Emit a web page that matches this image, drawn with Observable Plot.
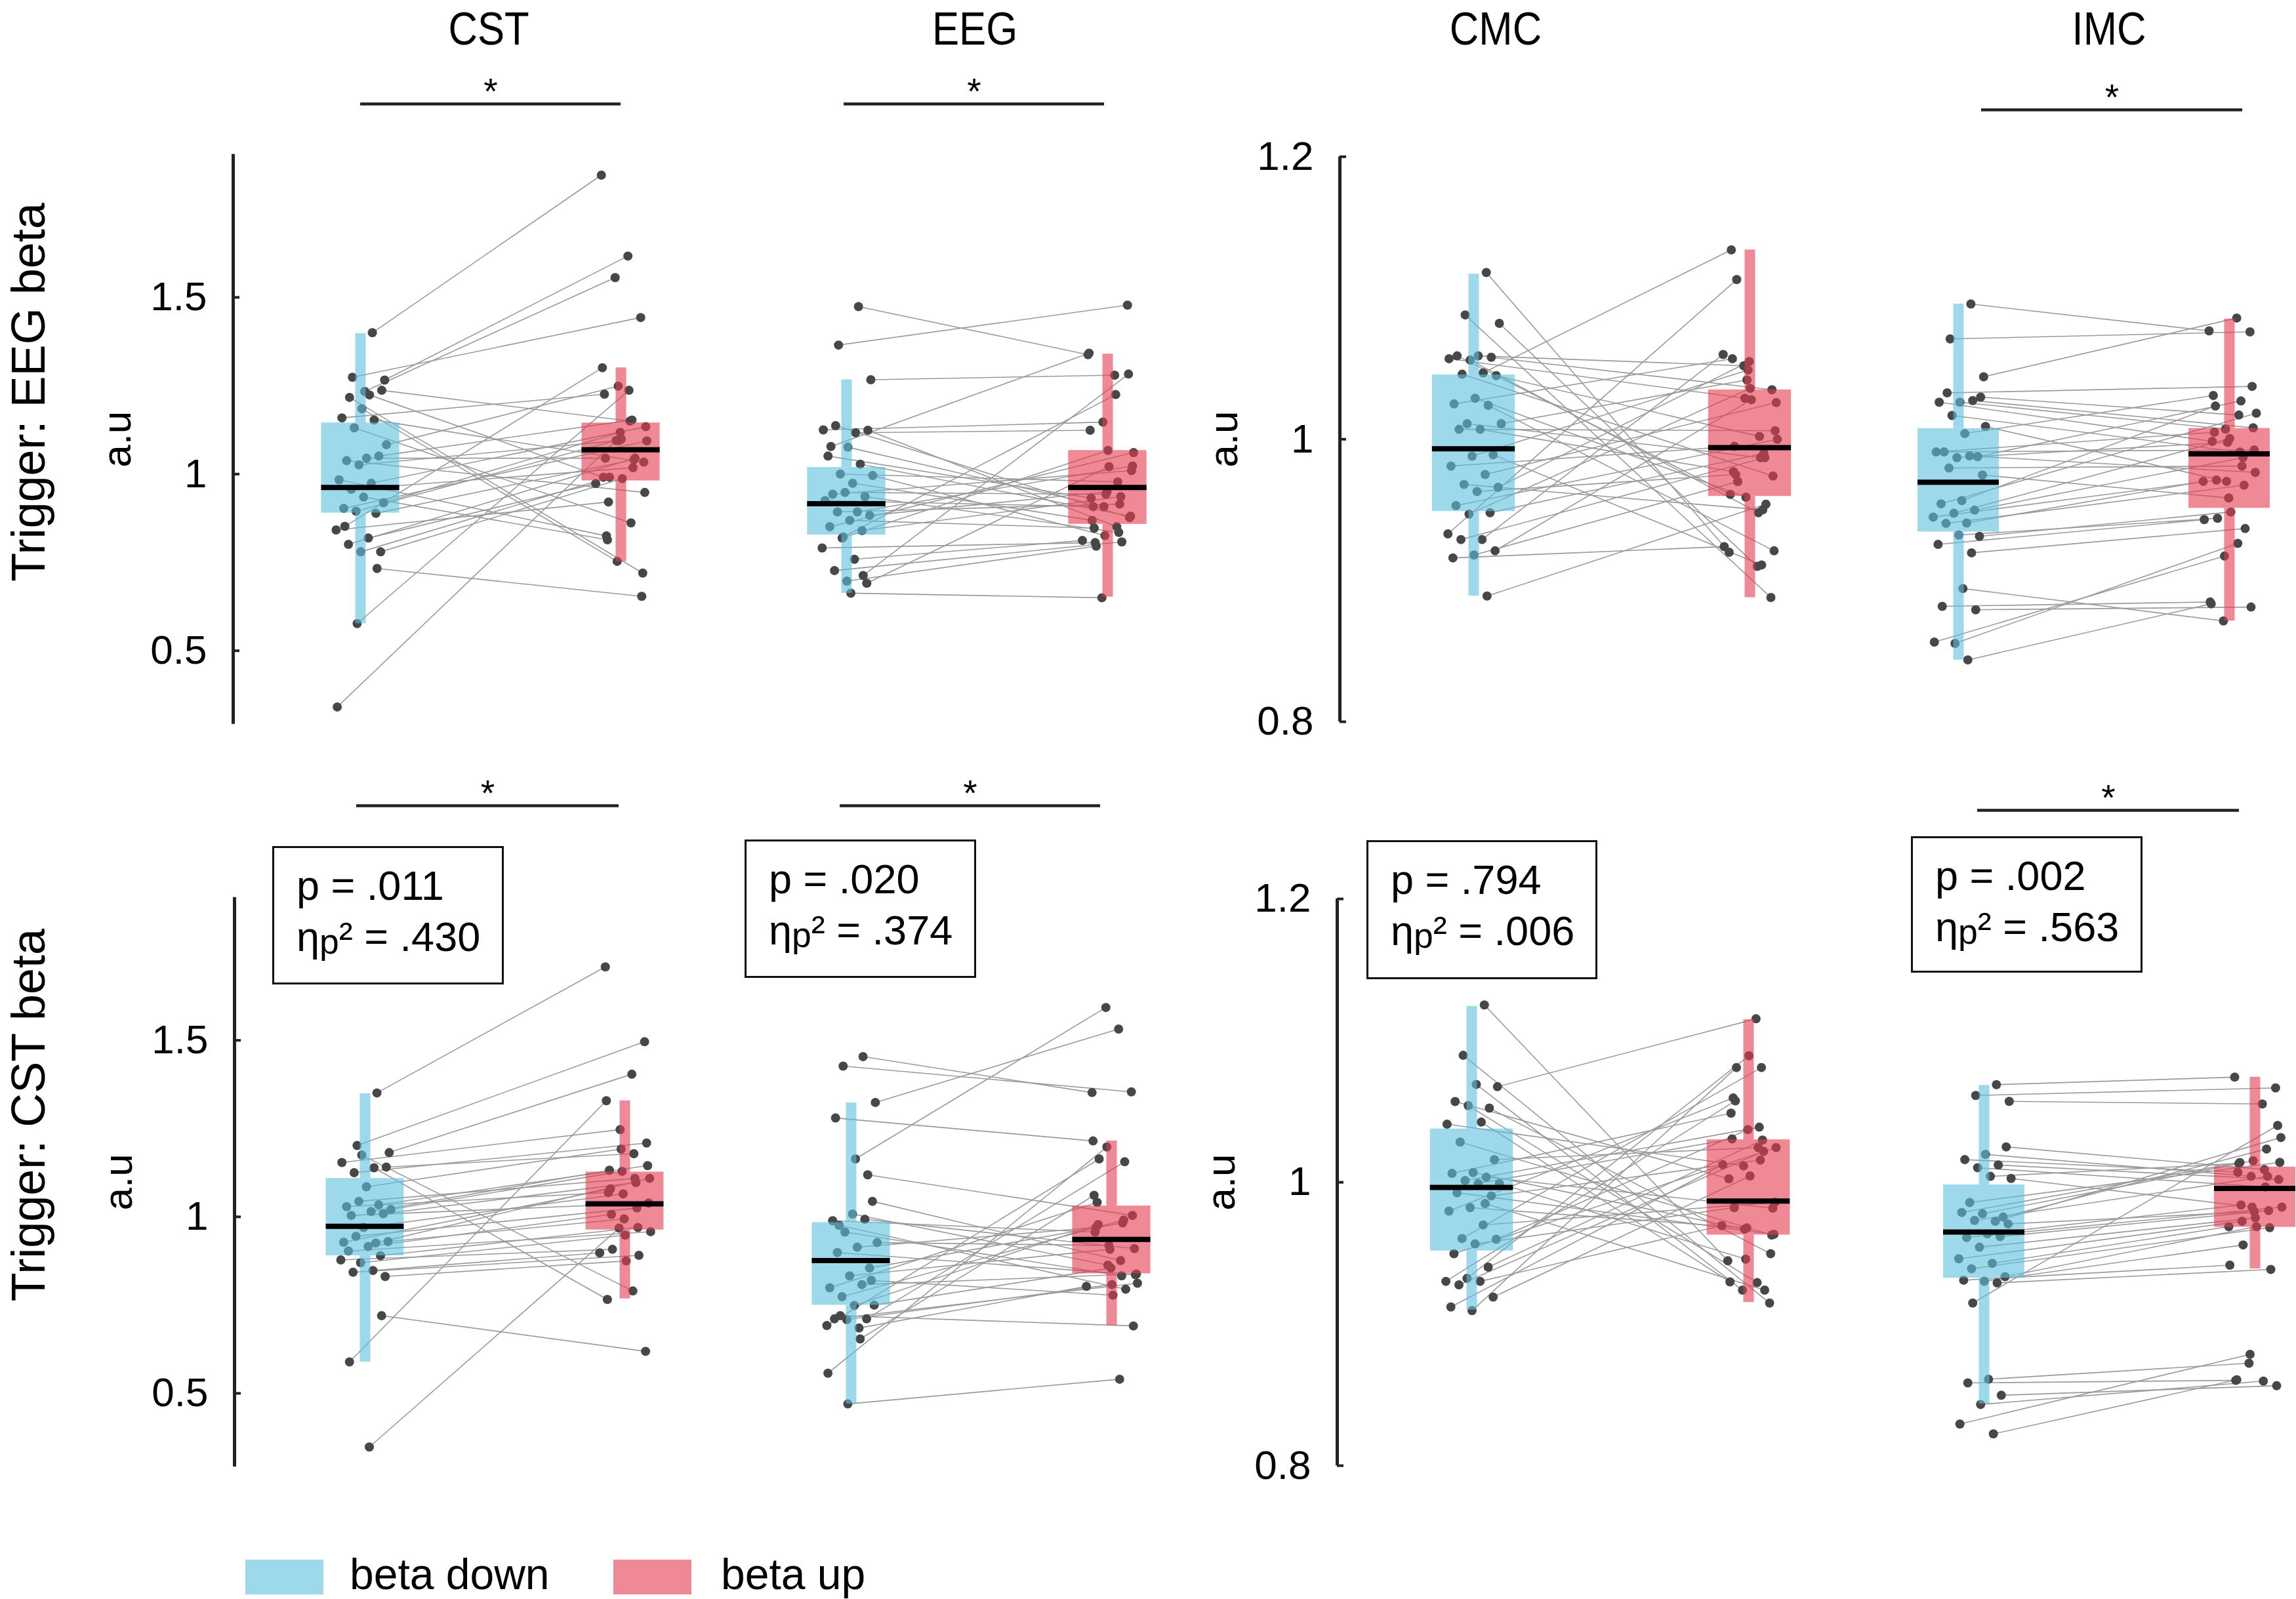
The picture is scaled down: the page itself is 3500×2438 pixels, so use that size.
<!DOCTYPE html>
<html>
<head>
<meta charset="utf-8">
<script src="https://cdn.jsdelivr.net/npm/d3@7"></script>
<script src="https://cdn.jsdelivr.net/npm/@observablehq/plot@0.6"></script>
<style>
  html, body { margin: 0; padding: 0; background: #fff; }
  #root { position: relative; width: 3500px; height: 2438px; overflow: hidden; background: #fff;
          font-family: "Liberation Sans", Arial, Helvetica, sans-serif; color: #000; }
  .abs { position: absolute; white-space: nowrap; line-height: 1; }
</style>
</head>
<body>
<div id="root"></div>
<script>
// ---------------- DATA ----------------
const measures = ["CST", "EEG", "CMC", "IMC"];
const conditions = ["beta down", "beta up"];
const triggers = ["Trigger: EEG beta", "Trigger: CST beta"];
const yLimWide = [0.292, 1.905];
const yLimNarrow = [0.8, 1.2];
const yTicksWide = [0.5, 1, 1.5];
const yTicksNarrow = [0.8, 1, 1.2];
const yAxisLabel = "a.u";

// Trigger: EEG beta (top row); paired values, same index = same participant
const eegTrigCSTDown = [1.400, 1.274, 1.266, 1.234, 0.852, 0.733, 0.577, 0.341, 1.224, 1.217, 1.237, 1.185, 1.159, 1.153, 1.131, 1.083, 1.045, 1.038, 1.051, 1.026, 0.984, 0.974, 0.957, 0.919, 0.935, 0.903, 0.889, 0.895, 0.842, 0.819, 0.801, 0.780, 0.780];
const eegTrigCSTUp   = [1.846, 1.443, 1.617, 1.556, 1.301, 0.654, 1.237, 1.095, 0.991, 0.720, 1.150, 0.753, 1.226, 1.034, 0.862, 1.249, 1.045, 0.948, 1.153, 1.095, 0.825, 1.134, 1.018, 1.118, 0.814, 1.094, 1.041, 1.099, 0.921, 0.973, 1.045, 0.987, 0.991];
const eegTrigEEGDown = [1.474, 1.365, 1.267, 0.663, 1.078, 0.713, 0.822, 1.125, 1.117, 1.137, 1.124, 1.076, 1.051, 1.028, 1.000, 0.996, 0.974, 0.943, 0.936, 0.948, 0.925, 0.893, 0.893, 0.883, 0.869, 0.851, 0.840, 0.819, 0.791, 0.759, 0.727, 0.691, 0.697];
const eegTrigEEGUp   = [1.338, 1.478, 1.280, 0.650, 1.342, 1.283, 1.225, 1.147, 1.124, 0.877, 0.851, 0.908, 0.932, 0.881, 0.978, 0.826, 0.869, 1.010, 0.835, 0.943, 0.908, 1.023, 0.915, 0.950, 0.847, 1.061, 0.936, 1.067, 0.806, 0.812, 0.808, 1.021, 0.796];
const eegTrigCMCDown = [1.118, 1.088, 1.082, 1.059, 1.059, 1.058, 1.056, 1.057, 1.047, 1.046, 1.045, 1.029, 1.025, 1.024, 1.011, 1.011, 1.007, 1.007, 0.989, 0.988, 0.981, 0.975, 0.968, 0.966, 0.963, 0.953, 0.948, 0.947, 0.933, 0.929, 0.929, 0.921, 0.918, 0.916, 0.889];
const eegTrigCMCUp   = [0.920, 0.888, 0.910, 1.052, 0.961, 1.035, 0.948, 1.029, 1.134, 0.974, 1.002, 0.959, 1.057, 0.921, 0.987, 1.042, 0.977, 1.006, 0.911, 1.049, 0.995, 1.026, 0.950, 1.055, 0.975, 1.000, 0.990, 1.036, 1.113, 1.060, 0.987, 1.028, 0.970, 0.924, 0.954];
const eegTrigIMCDown = [1.0957, 1.071, 1.0442, 0.8943, 0.8817, 0.8793, 0.8555, 0.8564, 0.8438, 1.0328, 1.0298, 1.0262, 1.0262, 1.0274, 1.0168, 1.009, 1.004, 0.991, 0.9877, 0.987, 0.991, 0.9882, 0.9797, 0.9747, 0.9566, 0.9543, 0.9498, 0.9476, 0.9449, 0.9407, 0.9404, 0.9313, 0.9322, 0.9256, 0.9196];
const eegTrigIMCUp   = [1.0767, 1.076, 1.0858, 0.8714, 0.8848, 0.8812, 0.9263, 0.9173, 0.8835, 1.0374, 1.0171, 1.0072, 0.9985, 1.0081, 0.9909, 0.9702, 1.031, 0.9924, 1.0271, 0.9978, 1.005, 0.9765, 0.981, 0.9584, 1.0235, 1.0184, 0.987, 1.0005, 0.9711, 0.9702, 0.9675, 0.9485, 0.944, 0.9431, 0.9368];

// Trigger: CST beta (bottom row)
const cstTrigCSTDown = [1.351, 1.202, 1.182, 0.348, 0.589, 0.720, 1.175, 1.154, 1.139, 1.125, 1.141, 1.085, 1.029, 1.034, 1.044, 1.021, 1.015, 1.004, 1.009, 0.970, 0.928, 0.926, 0.945, 0.930, 0.916, 0.903, 0.890, 0.870, 0.878, 0.848, 0.843, 0.831];
const cstTrigCSTUp   = [1.708, 1.496, 1.404, 0.968, 1.329, 0.619, 0.790, 1.247, 0.766, 1.209, 1.179, 1.192, 1.069, 1.145, 1.109, 1.129, 1.132, 1.039, 1.097, 1.065, 1.079, 1.109, 1.025, 0.994, 1.007, 0.958, 0.970, 0.948, 0.908, 0.898, 0.891, 0.875];
const cstTrigEEGDown = [1.454, 1.427, 1.324, 1.164, 1.280, 1.119, 0.470, 0.557, 0.654, 0.720, 1.044, 1.008, 0.989, 0.993, 0.957, 0.927, 0.914, 0.899, 0.855, 0.833, 0.799, 0.808, 0.774, 0.750, 0.749, 0.711, 0.711, 0.709, 0.692, 0.685, 0.976, 0.820];
const cstTrigEEGUp   = [1.352, 1.354, 1.532, 1.593, 1.215, 1.004, 0.540, 1.198, 1.061, 0.691, 0.876, 0.863, 0.957, 0.910, 0.833, 0.919, 0.970, 0.836, 0.983, 0.908, 1.041, 0.838, 0.991, 0.855, 0.978, 0.812, 1.156, 0.808, 1.164, 0.803, 0.795, 0.778];
const cstTrigCMCDown = [1.1252, 1.0896, 1.0675, 1.0691, 1.0570, 1.0524, 1.0541, 1.0410, 1.0425, 1.0284, 1.0160, 1.0069, 1.0063, 1.0036, 1.0012, 0.9992, 0.9992, 0.9926, 0.9904, 0.9821, 0.9797, 0.9699, 0.9603, 0.9598, 0.9565, 0.9496, 0.9401, 0.9322, 0.9301, 0.9301, 0.9276, 0.9190, 0.9094, 0.9120, 0.985];
const cstTrigCMCUp   = [0.9446, 0.9148, 1.1154, 0.9239, 1.0025, 0.9496, 0.9292, 1.0116, 0.9297, 0.9628, 1.0245, 0.9669, 1.0488, 0.9818, 1.0389, 0.9458, 1.0306, 0.9633, 1.0157, 0.9678, 1.0595, 0.9859, 1.0810, 1.0372, 0.9821, 1.0245, 1.0298, 1.0893, 1.0575, 0.9694, 1.0218, 1.0045, 1.0810, 1.0124, 0.9239];
const cstTrigIMCDown = [1.0689, 1.0613, 1.0571, 0.8610, 0.8584, 0.8497, 0.8432, 0.8294, 0.8224, 0.9148, 1.0250, 1.0197, 1.0160, 1.0122, 1.0103, 1.0027, 1.0042, 0.9857, 0.9755, 0.9778, 0.9787, 0.9725, 0.9731, 0.9706, 0.9636, 0.9611, 0.9617, 0.9542, 0.9460, 0.9428, 0.9390, 0.9334, 0.9302, 0.9309, 0.9290];
const cstTrigIMCUp   = [1.0742, 1.0666, 1.0553, 0.8723, 0.8602, 0.8564, 0.8597, 0.8786, 0.8606, 1.0401, 1.0090, 1.0042, 1.0071, 1.0020, 0.9967, 0.9825, 1.0133, 1.0141, 1.0235, 1.0152, 1.014, 1.0316, 1.0042, 0.9793, 0.984, 0.9825, 0.9800, 0.9749, 0.9725, 0.9687, 0.9680, 0.9687, 0.9558, 0.9415, 0.9385];

// box statistics: [q1, median, q3, lower whisker, upper whisker]
const eegTrigCSTDownBox = [0.890, 0.962, 1.145, 0.577, 1.398];
const eegTrigCSTUpBox   = [0.981, 1.069, 1.145, 0.753, 1.301];
const eegTrigEEGDownBox = [0.828, 0.916, 1.019, 0.663, 1.267];
const eegTrigEEGUpBox   = [0.858, 0.962, 1.067, 0.652, 1.340];
const eegTrigCMCDownBox = [0.9489, 0.9933, 1.0456, 0.889, 1.117];
const eegTrigCMCUpBox   = [0.9596, 0.994, 1.035, 0.888, 1.134];
const eegTrigIMCDownBox = [0.9344, 0.9696, 1.0076, 0.8438, 1.0957];
const eegTrigIMCUpBox   = [0.9512, 0.9897, 1.0077, 0.8714, 1.0852];
const cstTrigCSTDownBox = [0.890, 0.973, 1.109, 0.589, 1.349];
const cstTrigCSTUpBox   = [0.963, 1.037, 1.127, 0.768, 1.329];
const cstTrigEEGDownBox = [0.750, 0.876, 0.984, 0.470, 1.323];
const cstTrigEEGUpBox   = [0.839, 0.936, 1.031, 0.692, 1.215];
const cstTrigCMCDownBox = [0.9516, 0.9964, 1.0377, 0.9099, 1.1243];
const cstTrigCMCUpBox   = [0.9628, 0.9868, 1.0301, 0.9152, 1.1149];
const cstTrigIMCDownBox = [0.9324, 0.9649, 0.9982, 0.8436, 1.0685];
const cstTrigIMCUpBox   = [0.9683, 0.9957, 1.0108, 0.9390, 1.0742];

const significantEEGTrig = ["CST", "EEG", "IMC"];
const significantCSTTrig = ["CST", "EEG", "IMC"];
const pValues = [".011", ".020", ".794", ".002"];
const etaValues = [".430", ".374", ".006", ".563"];

// ---------------- LAYOUT / STYLE ----------------
const FONT = '"Liberation Sans", Arial, Helvetica, sans-serif';
const BLUE = "#5bc0de", RED = "#e63a50", ALPHA = 0.6;
const DOT = "#474747", LINK = "#9a9a9a", AXIS = "#222";

const rows = [
  { top: 0, height: 1150,
    axisTop: {A: 234.7, B: 238.4}, axisBottom: {A: 1103.8, B: 1100}, axisX: {A: 355, B: 2042},
    sigY: {A: 158, B: 167},
    sigX: {CST: [549, 946], EEG: [1286, 1683], IMC: [3020, 3418]},
    centers: {CST: [549, 946], EEG: [1290, 1688], CMC: [2246, 2667], IMC: [2985, 3398]} },
  { top: 1150, height: 1150,
    axisTop: {A: 1367.7, B: 1370.1}, axisBottom: {A: 2235.9, B: 2234.2}, axisX: {A: 357, B: 2038},
    sigY: {A: 1228, B: 1235},
    sigX: {CST: [543, 943], EEG: [1280, 1677], IMC: [3014, 3413]},
    centers: {CST: [556, 952], EEG: [1297, 1694], CMC: [2243, 2665], IMC: [3024, 3437]} }
];
const panelSpan = {CST: [0, 1120], EEG: [1120, 1820], CMC: [1820, 2800], IMC: [2800, 3500]};
const BOX_HALF = 0.15;

const DATA = [
  { CST: [eegTrigCSTDown, eegTrigCSTUp, eegTrigCSTDownBox, eegTrigCSTUpBox],
    EEG: [eegTrigEEGDown, eegTrigEEGUp, eegTrigEEGDownBox, eegTrigEEGUpBox],
    CMC: [eegTrigCMCDown, eegTrigCMCUp, eegTrigCMCDownBox, eegTrigCMCUpBox],
    IMC: [eegTrigIMCDown, eegTrigIMCUp, eegTrigIMCDownBox, eegTrigIMCUpBox], sig: significantEEGTrig },
  { CST: [cstTrigCSTDown, cstTrigCSTUp, cstTrigCSTDownBox, cstTrigCSTUpBox],
    EEG: [cstTrigEEGDown, cstTrigEEGUp, cstTrigEEGDownBox, cstTrigEEGUpBox],
    CMC: [cstTrigCMCDown, cstTrigCMCUp, cstTrigCMCDownBox, cstTrigCMCUpBox],
    IMC: [cstTrigIMCDown, cstTrigIMCUp, cstTrigIMCDownBox, cstTrigIMCUpBox], sig: significantCSTTrig }
];

// deterministic horizontal spread of the dots (display only)
const spread = (i, side) => {
  const f = ((i + 1) * (side ? 0.7548776662 : 0.6180339887) + (side ? 0.37 : 0.11)) % 1;
  return (f - 0.5) * 0.2;
};

const root = document.getElementById("root");

function panel(r, m) {
  const L = rows[r];
  const grp = (m === "CST" || m === "EEG") ? "A" : "B";
  const hasAxis = (m === "CST" || m === "CMC");
  const [Lp, Rp] = panelSpan[m];
  const Wp = Rp - Lp;
  const mL = hasAxis ? L.axisX[grp] - Lp : 0;
  const [c0, c1] = L.centers[m];
  const k = c1 - c0;
  const xDom = [(Lp + mL - c0) / k, (Rp - c0) / k];
  const mt = L.axisTop[grp] - L.top;
  const mb = L.top + L.height - L.axisBottom[grp];
  const yDom = grp === "A" ? yLimWide : yLimNarrow;
  const ticks = grp === "A" ? yTicksWide : yTicksNarrow;
  const [down, up, boxDown, boxUp] = DATA[r][m];

  const pairs = down.map((v, i) => ({down: v, up: up[i], j0: spread(i, 0), j1: spread(i, 1)}));
  const pts = pairs.flatMap(p => [{g: 0, v: p.down, j: p.j0}, {g: 1, v: p.up, j: p.j1}]);
  const mkBox = (s, g) => ({g, q1: s[0], med: s[1], q3: s[2], lo: s[3], hi: s[4]});
  const boxes = [[mkBox(boxDown, 0), BLUE], [mkBox(boxUp, 1), RED]];

  const marks = [
    Plot.link(pairs, {x1: p => p.j0, y1: "down", x2: p => 1 + p.j1, y2: "up", stroke: LINK, strokeWidth: 1.6}),
    Plot.dot(pts, {x: p => p.g + p.j, y: "v", r: 7, fill: DOT, stroke: "none"})
  ];
  for (const [b, col] of boxes) {
    marks.push(
      Plot.ruleX([b], {x: "g", y1: "lo", y2: "q1", stroke: col, strokeWidth: 16, strokeOpacity: ALPHA}),
      Plot.ruleX([b], {x: "g", y1: "q3", y2: "hi", stroke: col, strokeWidth: 16, strokeOpacity: ALPHA}),
      Plot.rect([b], {x1: d => d.g - BOX_HALF, x2: d => d.g + BOX_HALF, y1: "q1", y2: "q3", fill: col, fillOpacity: ALPHA}),
      Plot.ruleY([b], {y: "med", x1: d => d.g - BOX_HALF, x2: d => d.g + BOX_HALF, stroke: "black", strokeWidth: 8})
    );
  }
  if (hasAxis) {
    marks.push(
      Plot.ruleX([xDom[0]], {y1: yDom[0], y2: yDom[1], stroke: AXIS, strokeWidth: 5}),
      Plot.ruleY(ticks, {x1: xDom[0], x2: xDom[0] + 10 / k, stroke: AXIS, strokeWidth: 4}),
      Plot.axisY(ticks, {tickSize: 0, tickPadding: 40, fontSize: 62, label: null, tickFormat: d => String(d)}),
      Plot.text([yAxisLabel], {text: d => d, frameAnchor: "left", textAnchor: "middle", rotate: -90, dx: -176, fontSize: 62, lineAnchor: "middle"})
    );
  }
  if (DATA[r].sig.includes(m)) {
    const dy = L.sigY[grp] - L.axisTop[grp];
    const [s0, s1] = L.sigX[m].map(px => (px - c0) / k);
    marks.push(
      Plot.ruleY([yDom[1]], {x1: s0, x2: s1, dy, stroke: AXIS, strokeWidth: 4.5}),
      Plot.text(["*"], {text: d => d, x: (s0 + s1) / 2, y: yDom[1], dy: dy - 1, lineAnchor: "bottom", fontSize: 55})
    );
  }

  const svg = Plot.plot({
    width: Wp, height: L.height,
    marginTop: mt, marginBottom: mb, marginLeft: mL, marginRight: 0,
    x: {domain: xDom, axis: null},
    y: {domain: yDom, axis: null},
    style: {background: "transparent", overflow: "visible", fontFamily: FONT, color: "#000"},
    marks
  });
  const wrap = document.createElement("div");
  wrap.style.cssText = `position:absolute;left:${Lp}px;top:${L.top}px;width:${Wp}px;height:${L.height}px;`;
  svg.style.maxWidth = "none";
  wrap.appendChild(svg);
  root.appendChild(wrap);
}

for (let r = 0; r < 2; r++) for (const m of measures) panel(r, m);

// ---------------- HTML text: titles, row labels, stats, legend ----------------
const ASC = 0.8465; // baseline offset (line-height 1) for Liberation Sans
function text(str, x, baseline, size, anchor = "start", sx = 1) {
  const d = document.createElement("div");
  d.className = "abs";
  d.style.fontSize = size + "px";
  d.style.top = (baseline - ASC * size) + "px";
  d.style.left = x + "px";
  if (anchor === "middle") d.style.transform = `translateX(-50%) scaleX(${sx})`;
  d.innerHTML = str;
  root.appendChild(d);
  return d;
}
function vtext(str, baselineX, centerY, size) {
  const d = document.createElement("div");
  d.className = "abs";
  d.style.fontSize = size + "px";
  d.style.width = "700px";
  d.style.textAlign = "center";
  d.style.left = (baselineX - ASC * size) + "px";
  d.style.top = (centerY + 350) + "px";
  d.style.transformOrigin = "0 0";
  d.style.transform = "rotate(-90deg)";
  d.textContent = str;
  root.appendChild(d);
}

const titleX = {CST: 745, EEG: 1486, CMC: 2280, IMC: 3215};
measures.forEach(m => text(m, titleX[m], 68, 70, "middle", 0.88));
vtext(triggers[0], 68, 598, 72);
vtext(triggers[1], 68, 1700, 72);

const statBoxes = [
  {x: 415, y: 1290, w: 353, h: 211},
  {x: 1135, y: 1280, w: 353, h: 211},
  {x: 2083, y: 1281, w: 352, h: 212},
  {x: 2913, y: 1275, w: 353, h: 208}
];
statBoxes.forEach((b, i) => {
  const box = document.createElement("div");
  box.style.cssText = `position:absolute;left:${b.x}px;top:${b.y}px;width:${b.w}px;height:${b.h}px;border:3px solid #111;box-sizing:border-box;background:#fff;`;
  root.appendChild(box);
  text(`p = ${pValues[i]}`, b.x + 37, b.y + 82, 63);
  text(`η<span style="font-size:0.85em;position:relative;top:0.08em">p</span>² = ${etaValues[i]}`, b.x + 37, b.y + 160, 63);
});

// legend
const legend = [
  {label: conditions[0], color: BLUE, sx: 374, tx: 533},
  {label: conditions[1], color: RED, sx: 935, tx: 1099}
];
legend.forEach(l => {
  const sw = document.createElement("div");
  sw.style.cssText = `position:absolute;left:${l.sx}px;top:2378px;width:119px;height:53px;background:${l.color};opacity:${ALPHA};`;
  root.appendChild(sw);
  text(l.label, l.tx, 2423, 66);
});
</script>
</body>
</html>
